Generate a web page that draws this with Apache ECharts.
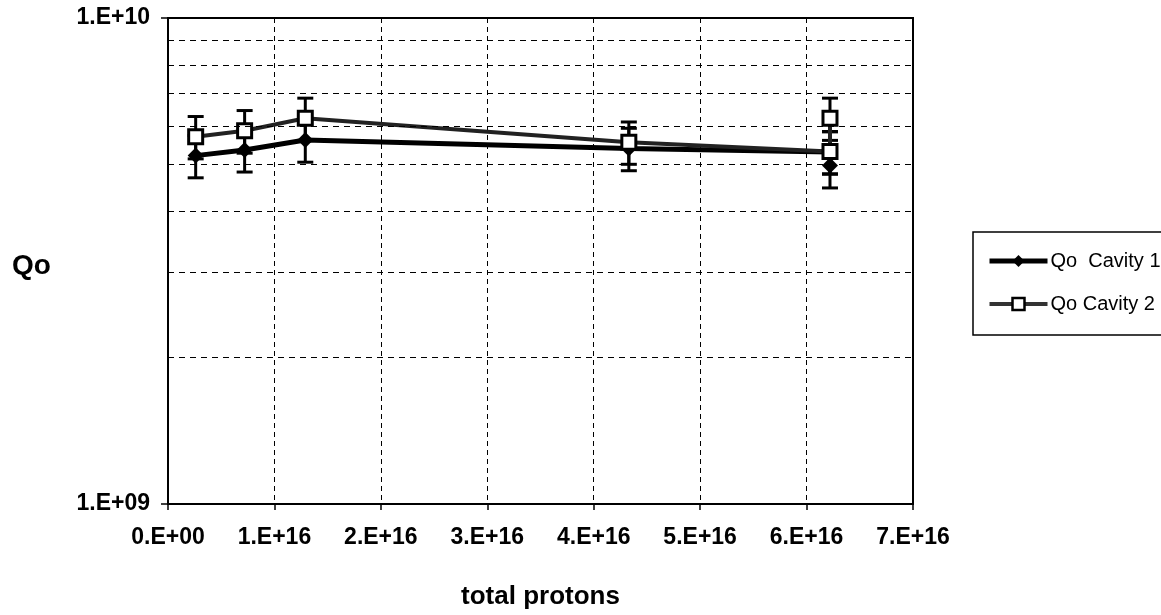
<!DOCTYPE html>
<html>
<head>
<meta charset="utf-8">
<script src="https://cdn.jsdelivr.net/npm/echarts@6/dist/echarts.min.js"></script>
<style>
html,body{margin:0;padding:0;background:#fff;}
#chart{width:1161px;height:615px;}
</style>
</head>
<body>
<div id="chart"></div>
<script>
// total protons (x) for each measurement
const xVals = [2.6e15, 7.2e15, 1.29e16, 4.33e16, 6.22e16, 6.22e16];
// Qo Cavity 1
const cav1 = [5.21e9, 5.35e9, 5.61e9, 5.39e9, 5.30e9, 4.97e9];
const cav1Low = [4.69e9, 4.82e9, 5.05e9, 4.85e9, 4.77e9, 4.47e9];
const cav1High = [5.73e9, 5.89e9, 6.17e9, 5.93e9, 5.83e9, 5.47e9];
// Qo Cavity 2
const cav2 = [5.70e9, 5.86e9, 6.22e9, 5.55e9, 5.31e9, 6.22e9];
const cav2Low = [5.13e9, 5.27e9, 5.60e9, 5.00e9, 4.78e9, 5.60e9];
const cav2High = [6.27e9, 6.45e9, 6.84e9, 6.11e9, 5.84e9, 6.84e9];
// minor gridlines on the log axis
const minorGrid = [2e9, 3e9, 4e9, 5e9, 6e9, 7e9, 8e9, 9e9];
const seriesNames = ['Qo  Cavity 1', 'Qo Cavity 2'];

const FONT = "'Liberation Sans', Arial, sans-serif";

const pairs = (xs, ys) => xs.map((x, i) => [x, ys[i]]);
const errData = (xs, lo, hi) => xs.map((x, i) => [x, lo[i], hi[i]]);

function errRender(params, api) {
  const x = api.value(0);
  const lo = api.coord([x, api.value(1)]);
  const hi = api.coord([x, api.value(2)]);
  const hw = 8;
  const st = { stroke: '#000', lineWidth: 3 };
  return {
    type: 'group',
    children: [
      { type: 'line', shape: { x1: lo[0], y1: lo[1], x2: hi[0], y2: hi[1] }, style: st },
      { type: 'line', shape: { x1: lo[0] - hw, y1: lo[1], x2: lo[0] + hw, y2: lo[1] }, style: st },
      { type: 'line', shape: { x1: hi[0] - hw, y1: hi[1], x2: hi[0] + hw, y2: hi[1] }, style: st }
    ]
  };
}

const chart = echarts.init(document.getElementById('chart'), null, { renderer: 'canvas' });
chart.setOption({
  animation: false,
  backgroundColor: '#fff',
  grid: { left: 168, right: 248, top: 18, bottom: 111, show: true, borderColor: '#000', borderWidth: 2, backgroundColor: 'transparent' },
  xAxis: {
    type: 'value', min: 0, max: 7e16, interval: 1e16,
    axisLine: { show: true, lineStyle: { color: '#000', width: 2 } },
    axisTick: { show: true, length: 6, lineStyle: { color: '#000', width: 1.5 } },
    axisLabel: {
      margin: 22, color: '#000', fontFamily: FONT, fontWeight: 'bold', fontSize: 23,
      formatter: v => v === 0 ? '0.E+00' : Math.round(v / 1e16) + '.E+16'
    },
    splitLine: { show: true, lineStyle: { color: '#000', width: 1, type: [5, 4] } },
    name: 'total protons', nameLocation: 'middle', nameGap: 80,
    nameTextStyle: { color: '#000', fontFamily: FONT, fontWeight: 'bold', fontSize: 26 }
  },
  yAxis: {
    type: 'log', logBase: 10, min: 1e9, max: 1e10,
    axisLine: { show: true, lineStyle: { color: '#000', width: 2 } },
    axisTick: { show: true, length: 7, lineStyle: { color: '#000', width: 1.5 } },
    axisLabel: {
      margin: 18, color: '#000', fontFamily: FONT, fontWeight: 'bold', fontSize: 23,
      formatter: v => v >= 9.9e9 ? '1.E+10' : '1.E+09'
    },
    splitLine: { show: false }
  },
  legend: {
    orient: 'vertical', left: 982, top: 246, itemWidth: 58, itemHeight: 15, itemGap: 23,
    data: [
      { name: seriesNames[0], lineStyle: { color: '#000', width: 5 }, itemStyle: { color: '#000' } },
      { name: seriesNames[1], lineStyle: { color: '#333', width: 4 }, itemStyle: { color: '#fff', borderColor: '#000', borderWidth: 2.5 } }
    ],
    textStyle: { color: '#000', fontFamily: FONT, fontSize: 20, padding: [0, 0, 0, -2] },
    selectedMode: false
  },
  graphic: [
    { type: 'rect', shape: { x: 973, y: 232, width: 200, height: 103 }, style: { fill: 'none', stroke: '#000', lineWidth: 1.5 }, z: 0 },
    { type: 'text', left: 12, top: 252, style: { text: 'Qo', fill: '#000', font: "bold 28px 'Liberation Sans', Arial, sans-serif" } }
  ],
  series: [
    {
      type: 'custom', name: 'err', renderItem: errRender, z: 1, silent: true,
      encode: { x: 0, y: [1, 2] },
      data: errData(xVals, cav1Low, cav1High),
      markLine: {
        silent: true, symbol: 'none', label: { show: false },
        lineStyle: { color: '#000', width: 1, type: [6, 5] },
        data: minorGrid.map(v => ({ yAxis: v }))
      }
    },
    {
      type: 'custom', name: 'err2', renderItem: errRender, z: 1, silent: true,
      encode: { x: 0, y: [1, 2] },
      data: errData(xVals, cav2Low, cav2High)
    },
    {
      type: 'line', name: seriesNames[0], z: 3,
      data: pairs(xVals, cav1),
      symbol: 'diamond', symbolSize: 16, showAllSymbol: true,
      lineStyle: { color: '#000', width: 5 },
      itemStyle: { color: '#000', borderColor: '#000', borderWidth: 0 }
    },
    {
      type: 'line', name: seriesNames[1], z: 4,
      data: pairs(xVals, cav2),
      symbol: 'rect', symbolSize: 14, showAllSymbol: true,
      lineStyle: { color: '#222', width: 4 },
      itemStyle: { color: '#fff', borderColor: '#000', borderWidth: 3 }
    }
  ]
});
</script>
</body>
</html>
